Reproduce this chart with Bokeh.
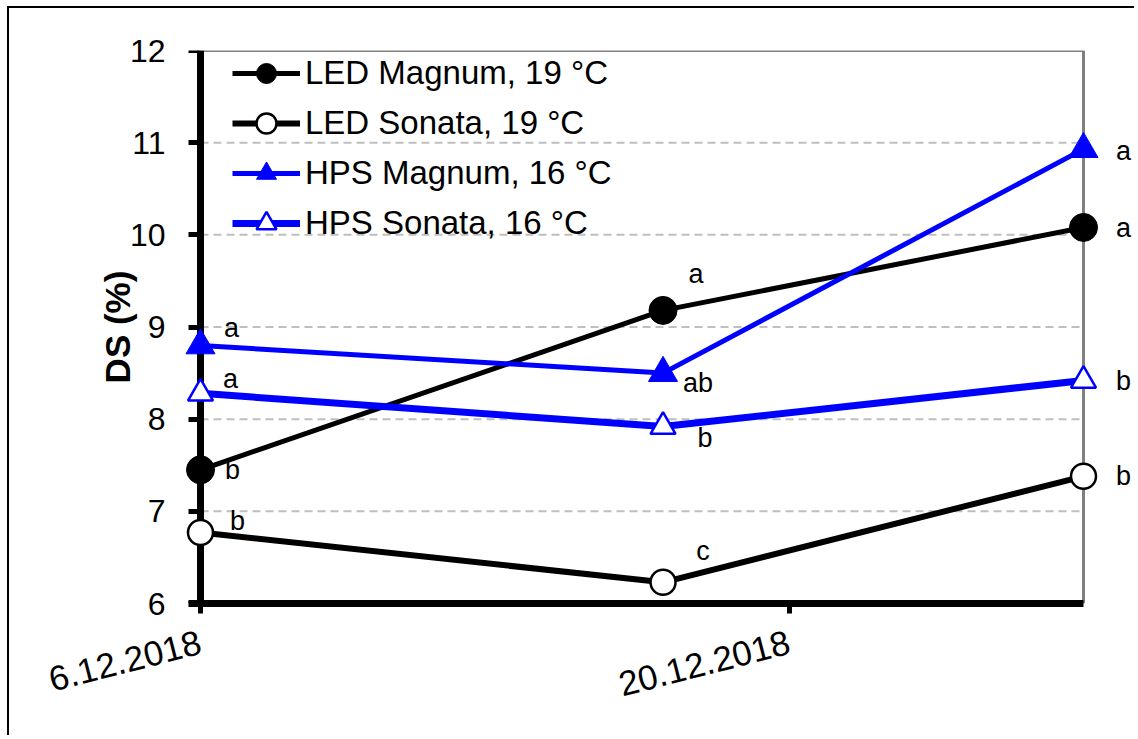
import pandas as pd
from bokeh.plotting import figure
from bokeh.models import (FixedTicker, ColumnDataSource, Legend, LegendItem,
                          Range1d, LinearAxis)
from bokeh.core.properties import value
from bokeh.embed import file_html
from bokeh.resources import INLINE

# ---------------- data ----------------
dates = ["2018-12-06", "2018-12-17", "2018-12-27"]
x_start, x_end = "2018-12-06", "2018-12-27"
tick_dates = ["2018-12-06", "2018-12-20"]
tick_labels = ["6.12.2018", "20.12.2018"]
y_ticks = [6, 7, 8, 9, 10, 11, 12]

series_names = ["LED Magnum, 19 °C", "LED Sonata, 19 °C",
                "HPS Magnum, 16 °C", "HPS Sonata, 16 °C"]
led_magnum = [7.45, 9.18, 10.08]
led_sonata = [6.77, 6.23, 7.38]
hps_magnum = [8.80, 8.50, 10.93]
hps_sonata = [8.28, 7.92, 8.42]

led_magnum_letters = ["b", "a", "a"]
led_sonata_letters = ["b", "c", "b"]
hps_magnum_letters = ["a", "ab", "a"]
hps_sonata_letters = ["a", "b", "b"]

# ---------------- styles ----------------
led_magnum_dx, led_magnum_dy = [32, 33, 40], [0, -36, 1]
led_sonata_dx, led_sonata_dy = [37, 40, 40], [-12, -31, 0]
hps_magnum_dx, hps_magnum_dy = [31, 35, 40], [-17, 10, 2]
hps_sonata_dx, hps_sonata_dy = [30, 42, 40], [-14, 11, 1]

FONT = "Liberation Sans"
BLUE = "#0000FF"
PAD_L, AXIS_PX, PAD_R = 20, 883, 53   # frame padding around the drawn axes (px)

x = pd.to_datetime(dates)
xs_ms = pd.Timestamp(x_start).timestamp() * 1000.0
xe_ms = pd.Timestamp(x_end).timestamp() * 1000.0
ms_per_px = (xe_ms - xs_ms) / AXIS_PX

p = figure(width=1127, height=729, x_axis_type="datetime",
           output_backend="svg", toolbar_location=None,
           x_range=Range1d(xs_ms - PAD_L * ms_per_px, xe_ms + PAD_R * ms_per_px),
           y_range=Range1d(y_ticks[0], y_ticks[-1]),
           min_border_left=171, min_border_right=0,
           min_border_top=42, min_border_bottom=134)
p.styles = {"border-top": "2px solid black", "border-left": "2px solid black",
            "margin-left": "7px", "margin-top": "6px"}

p.background_fill_color = "white"
p.border_fill_color = "white"
p.outline_line_color = None
p.xgrid.visible = False
p.ygrid.visible = False

# grid lines and plot-area border (gray top / right)
gy = y_ticks[1:-1]
p.segment(x0=[xs_ms] * len(gy), x1=[xe_ms] * len(gy), y0=gy, y1=gy,
          line_color="#bfbfbf", line_width=2, line_dash="8 5")
p.segment(x0=[xs_ms, xe_ms], x1=[xe_ms, xe_ms],
          y0=[y_ticks[-1], y_ticks[0]], y1=[y_ticks[-1], y_ticks[-1]],
          line_color="#808080", line_width=3)

# x axis
tick_ms = [pd.Timestamp(d).timestamp() * 1000.0 for d in tick_dates]
xa = p.xaxis[0]
xa.ticker = FixedTicker(ticks=tick_ms)
xa.major_label_overrides = {t: lab for t, lab in zip(tick_ms, tick_labels)}
xa.major_label_orientation = 0.25
xa.bounds = (xs_ms - 12 * ms_per_px, xe_ms)
xa.axis_line_color = "black"
xa.axis_line_width = 7
xa.major_tick_line_color = "black"
xa.major_tick_line_width = 5
xa.major_tick_in = 0
xa.major_tick_out = 10
xa.minor_tick_line_color = None
xa.major_label_text_font = FONT
xa.major_label_text_color = "black"
xa.major_label_text_font_size = "35px"
xa.major_label_standoff = 28

# y axis: labels (in the left panel)
ya = p.yaxis[0]
ya.ticker = FixedTicker(ticks=y_ticks)
ya.axis_line_color = None
ya.major_tick_line_color = None
ya.minor_tick_line_color = None
ya.major_tick_in = 0
ya.major_tick_out = 0
ya.major_label_standoff = 15
ya.major_label_text_font = FONT
ya.major_label_text_color = "black"
ya.major_label_text_font_size = "32px"
ya.axis_label = "DS (%)"
ya.axis_label_text_font = FONT
ya.axis_label_text_font_style = "bold"
ya.axis_label_text_font_size = "35px"
ya.axis_label_text_color = "black"
ya.axis_label_standoff = -10

# y axis: line and ticks at the first date
ya2 = LinearAxis(fixed_location=xs_ms, ticker=FixedTicker(ticks=y_ticks),
                 axis_line_color="black", axis_line_width=7,
                 major_tick_line_color="black", major_tick_line_width=5,
                 major_tick_in=0, major_tick_out=12,
                 minor_tick_line_color=None, major_label_text_color=None,
                 major_label_text_font_size="1px")
p.add_layout(ya2, "left")

# series
specs = [
    (led_magnum, led_magnum_letters, led_magnum_dx, led_magnum_dy,
     dict(color="black", lw=5, marker="circle", size=28, fill="black", mlw=1)),
    (led_sonata, led_sonata_letters, led_sonata_dx, led_sonata_dy,
     dict(color="black", lw=6, marker="circle", size=25, fill="white", mlw=2.5)),
    (hps_magnum, hps_magnum_letters, hps_magnum_dx, hps_magnum_dy,
     dict(color=BLUE, lw=5, marker="triangle", size=29, fill=BLUE, mlw=1)),
    (hps_sonata, hps_sonata_letters, hps_sonata_dx, hps_sonata_dy,
     dict(color=BLUE, lw=7, marker="triangle", size=25, fill="white", mlw=2.5)),
]

items = []
for name, (vals, letters, dx, dy, st) in zip(series_names, specs):
    src = ColumnDataSource(dict(x=x, y=vals, letter=letters, dx=dx, dy=dy))
    lr = p.line("x", "y", source=src, line_color=st["color"], line_width=st["lw"])
    sr = p.scatter("x", "y", source=src, marker=st["marker"], size=st["size"],
                   fill_color=st["fill"], line_color=st["color"],
                   line_width=st["mlw"], level="overlay")
    p.text("x", "y", text="letter", source=src, x_offset="dx", y_offset="dy",
           text_font=value(FONT), text_font_size="27px", text_color="black",
           text_align="center", text_baseline="middle")
    items.append(LegendItem(label=name, renderers=[lr, sr]))

legend = Legend(items=items, location=(52, 355), glyph_width=68, glyph_height=50,
                spacing=0, label_standoff=5, label_text_font=FONT,
                label_text_font_size="33px", label_text_color="black",
                border_line_color=None, background_fill_alpha=0,
                padding=0, margin=0)
p.add_layout(legend)

open("out.html", "w").write(file_html(p, INLINE))
